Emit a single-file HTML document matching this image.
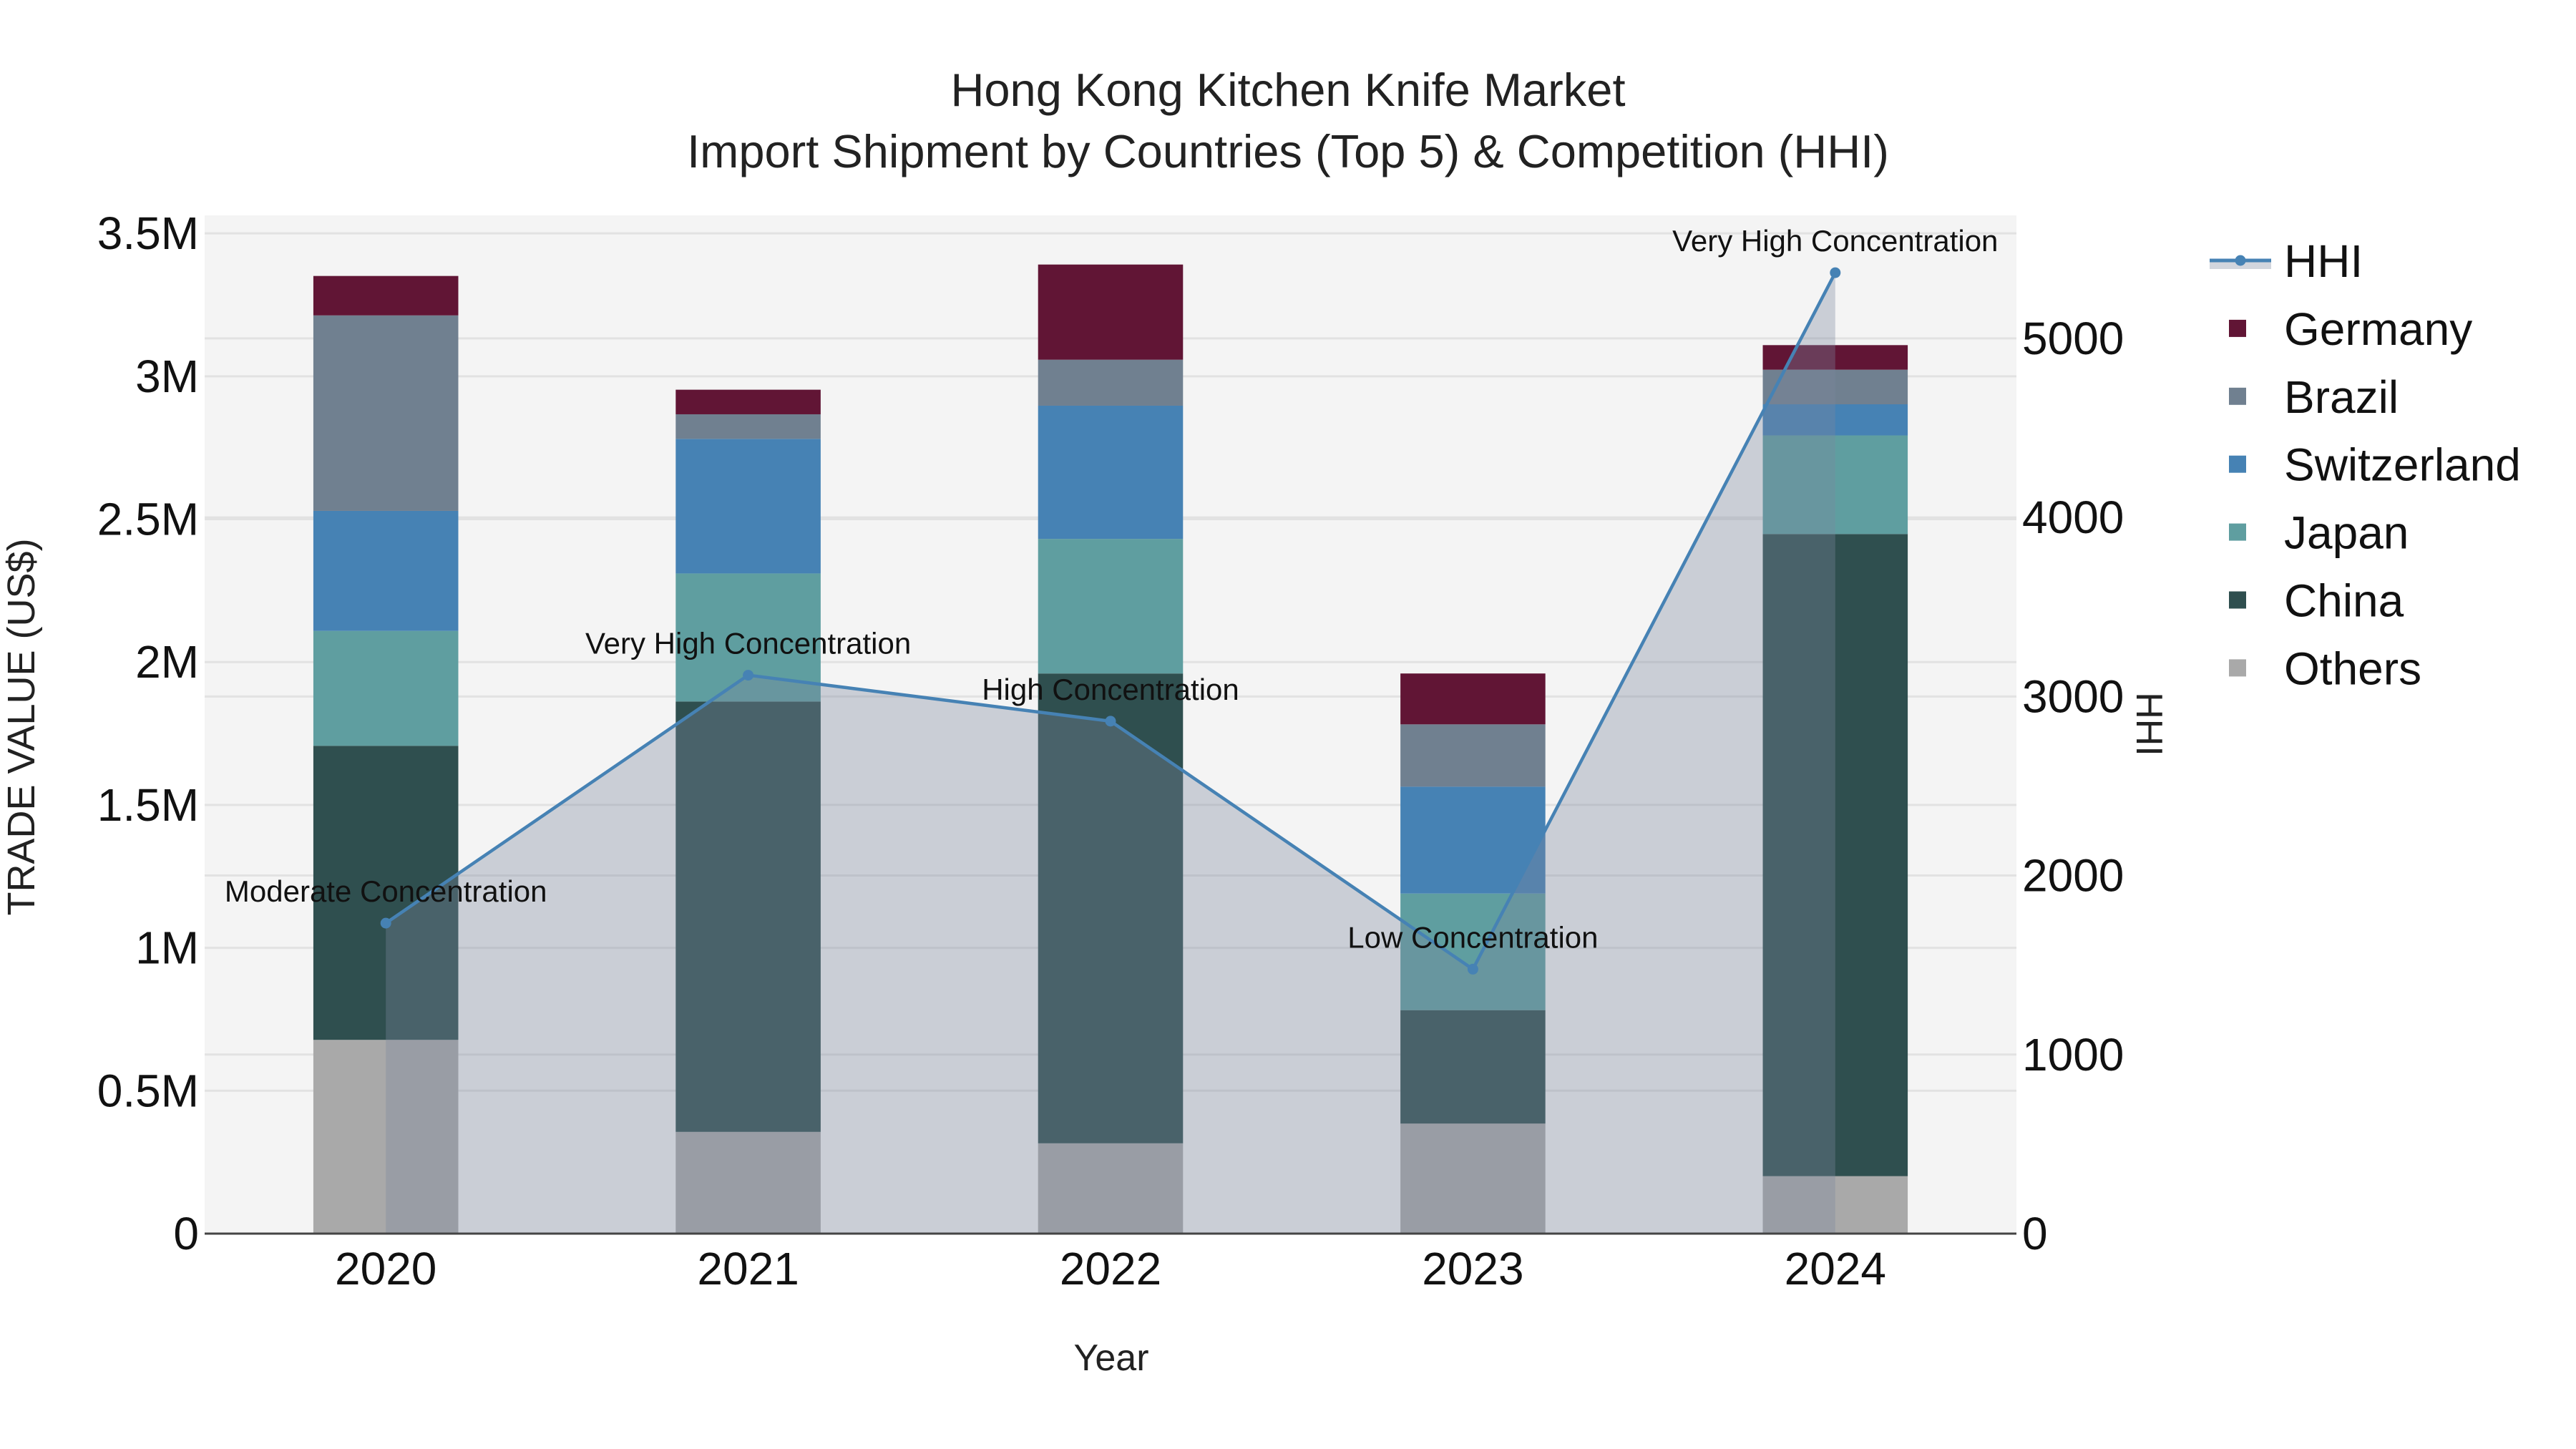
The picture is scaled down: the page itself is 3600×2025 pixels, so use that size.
<!DOCTYPE html>
<html><head><meta charset="utf-8"><style>
html,body{margin:0;padding:0;background:#fff;}
svg{display:block;font-family:"Liberation Sans",sans-serif;}
</style></head><body>
<svg id="chart" width="3600" height="2025" viewBox="0 0 3600 2025" xmlns="http://www.w3.org/2000/svg">
<rect width="3600" height="2025" fill="#fff"/>
<text x="1800" y="148" font-size="65" text-anchor="middle" fill="#222">Hong Kong Kitchen Knife Market</text>
<text x="1800" y="234" font-size="65" text-anchor="middle" fill="#222">Import Shipment by Countries (Top 5) &amp; Competition (HHI)</text>
<rect x="286" y="301" width="2532" height="1423" fill="#f4f4f4"/>
<g id="grid"></g>
<g id="bars"></g>
<g id="area"></g>
<g id="axes"></g>
<g id="legend"></g>
<text transform="translate(48,1016) rotate(-90)" font-size="54" text-anchor="middle" fill="#222">TRADE VALUE (US$)</text>
<text transform="translate(2986,1012) rotate(90)" font-size="52" text-anchor="middle" fill="#222">HHI</text>
<text x="1553" y="1915" font-size="52" text-anchor="middle" fill="#222">Year</text>
</svg>
<script>
const years = ["2020","2021","2022","2023","2024"];
const others = [0.678, 0.356, 0.316, 0.385, 0.201];
const china = [1.029, 1.506, 1.644, 0.397, 2.247];
const japan = [0.402, 0.448, 0.471, 0.408, 0.345];
const switzerland = [0.420, 0.471, 0.466, 0.374, 0.109];
const brazil = [0.684, 0.086, 0.161, 0.218, 0.121];
const germany = [0.138, 0.086, 0.333, 0.178, 0.086];
const hhi = [1734, 3119, 2862, 1477, 5367];
const hhiLabels = ["Moderate Concentration","Very High Concentration","High Concentration","Low Concentration","Very High Concentration"];
const yTicks = [0, 0.5, 1, 1.5, 2, 2.5, 3, 3.5];
const yTickLabels = ["0","0.5M","1M","1.5M","2M","2.5M","3M","3.5M"];
const y2Ticks = [0, 1000, 2000, 3000, 4000, 5000];

const NS = "http://www.w3.org/2000/svg";
const L = 286, R = 2818, T = 301, B = 1724;
const band = (R - L) / years.length;
const xC = i => L + band * (i + 0.5);
const yL = v => B - v / 3.563 * (B - T);
const yR = v => B - v / 5687 * (B - T);
function mk(tag, attrs, parent) {
  const e = document.createElementNS(NS, tag);
  for (const k in attrs) e.setAttribute(k, attrs[k]);
  parent.appendChild(e); return e;
}
const grid = document.getElementById('grid');
yTicks.forEach(v => { if (v > 0) { const l = mk('line', {x1:L, x2:R, y1:yL(v), y2:yL(v), stroke:'#e2e2e2', 'stroke-width':3}, grid);
  
   } });
y2Ticks.forEach(v => { if (v > 0) { const l = mk('line', {x1:L, x2:R, y1:yR(v), y2:yR(v), stroke:'#e2e2e2', 'stroke-width':3}, grid);
  
   } });

const series = [
  {name:'others', vals:others, color:'#a9a9a9'},
  {name:'china', vals:china, color:'#2f4f4f'},
  {name:'japan', vals:japan, color:'#5f9ea0'},
  {name:'switzerland', vals:switzerland, color:'#4682b4'},
  {name:'brazil', vals:brazil, color:'#708090'},
  {name:'germany', vals:germany, color:'#611535'}
];
const bars = document.getElementById('bars');
const bw = band * 0.4;
years.forEach((y, i) => {
  let cum = 0;
  series.forEach(s => {
    const v = s.vals[i];
    const r = mk('rect', {x:xC(i) - bw/2, y:yL(cum + v), width:bw, height:yL(cum) - yL(cum + v), fill:s.color}, bars);
    
    
    cum += v;
  });
});

const area = document.getElementById('area');
let d = 'M' + xC(0) + ',' + B;
hhi.forEach((v, i) => { d += ' L' + xC(i) + ',' + yR(v); });
d += ' L' + xC(hhi.length - 1) + ',' + B + ' Z';
const fillEl = mk('path', {d:d, fill:'rgb(122,134,157)', 'fill-opacity':0.35}, area);


const pts = hhi.map((v, i) => xC(i) + ',' + yR(v)).join(' ');
const line = mk('polyline', {points:pts, fill:'none', stroke:'#4682b4', 'stroke-width':4.5}, area);


hhi.forEach((v, i) => {
  const c = mk('circle', {cx:xC(i), cy:yR(v), r:7.5, fill:'#4682b4'}, area);
  
  
  const t = mk('text', {x:xC(i), y:yR(v) - 30, 'font-size':42, 'text-anchor':'middle', fill:'#111'}, area);
  t.textContent = hhiLabels[i];
  
  
});

const axes = document.getElementById('axes');
const zl = mk('line', {x1:L, x2:R, y1:B, y2:B, stroke:'#444', 'stroke-width':3}, axes);


yTicks.forEach((v, i) => {
  const t = mk('text', {x:278, y:yL(v) + 22, 'font-size':64, 'text-anchor':'end', fill:'#111'}, axes);
  t.textContent = yTickLabels[i];
  
  
});
y2Ticks.forEach(v => {
  const t = mk('text', {x:2826, y:yR(v) + 22, 'font-size':64, 'text-anchor':'start', fill:'#111'}, axes);
  t.textContent = String(v);
  
  
});
years.forEach((y, i) => {
  const t = mk('text', {x:xC(i), y:1795, 'font-size':64, 'text-anchor':'middle', fill:'#111'}, axes);
  t.textContent = y;
  
  
});

const legend = document.getElementById('legend');
const legItems = [
  {name:'HHI', color:'#4682b4'},
  {name:'Germany', color:'#611535'},
  {name:'Brazil', color:'#708090'},
  {name:'Switzerland', color:'#4682b4'},
  {name:'Japan', color:'#5f9ea0'},
  {name:'China', color:'#2f4f4f'},
  {name:'Others', color:'#a9a9a9'}
];
legItems.forEach((it, i) => {
  const cy = 364 + i * 94.9;
  const g = mk('g', {}, legend);
  
  
  if (i === 0) {
    mk('rect', {x:3088, y:cy - 2, width:86, height:14, fill:'rgb(122,134,157)', 'fill-opacity':0.35}, g);
    mk('line', {x1:3088, x2:3174, y1:cy, y2:cy, stroke:'#4682b4', 'stroke-width':5}, g);
    mk('circle', {cx:3131, cy:cy, r:7.5, fill:'#4682b4'}, g);
  } else {
    mk('rect', {x:3115, y:cy - 12, width:24, height:24, fill:it.color}, g);
  }
  const t = mk('text', {x:3192, y:cy + 23, 'font-size':64, fill:'#111'}, g);
  t.textContent = it.name;
});
</script>
</body></html>
